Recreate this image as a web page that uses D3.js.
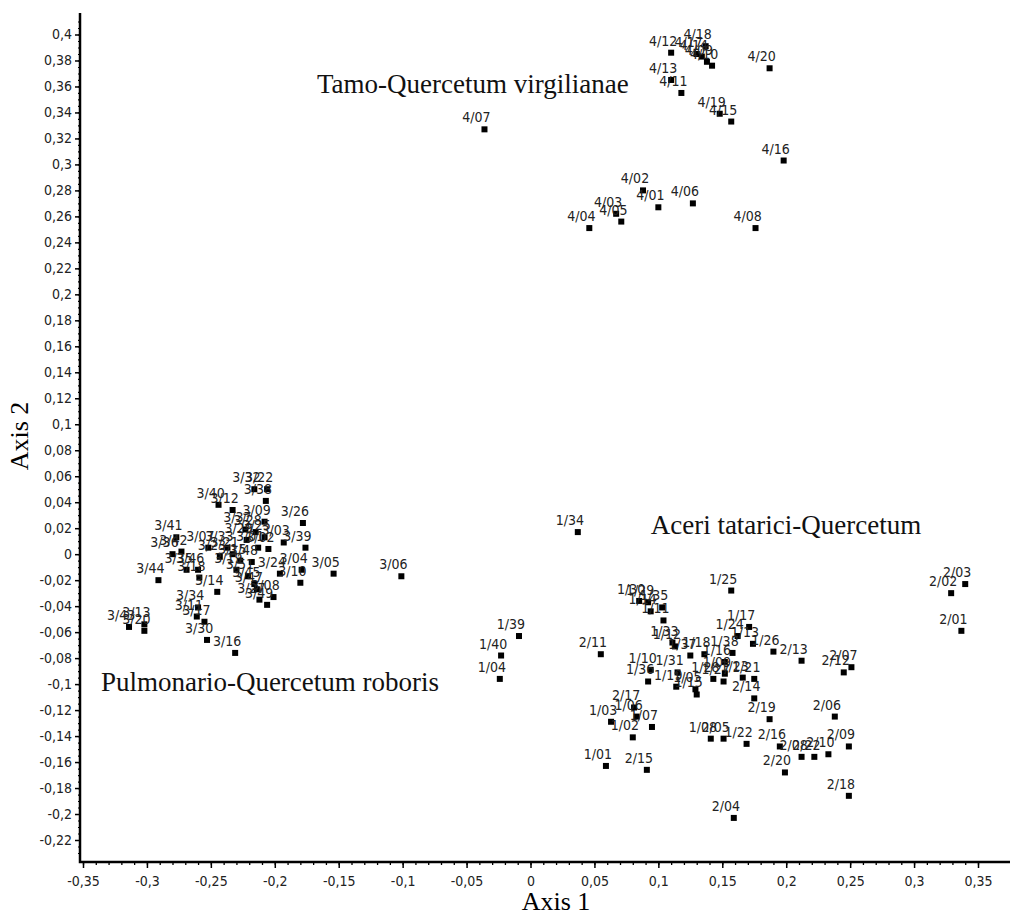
<!DOCTYPE html>
<html>
<head>
<meta charset="utf-8">
<script src="https://cdn.jsdelivr.net/npm/d3@7"></script>
<style>
  body { margin: 0; background: #fff; }
  .tick text, .plot-label { font-family: "DejaVu Sans Condensed", "Liberation Sans Narrow", "DejaVu Sans", sans-serif; }
  .title { font-family: "Liberation Serif", "DejaVu Serif", serif; }
</style>
</head>
<body>
<div id="chart"></div>
<script>
// ticks
const xTicks = d3.range(-7, 8).map(i => i * 0.05);
const xMinor = d3.range(-35, 36).map(i => i * 0.01);
const yTicks = d3.range(-11, 21).map(i => i * 0.02);
const yMinor = d3.range(-46, 83).map(i => i * 0.005);

// relevés [label, axis 1, axis 2]
const tamoQuercetum = [
  ["4/07", -0.036, 0.327], ["4/12", 0.110, 0.386], ["4/18", 0.137, 0.391],
  ["4/17", 0.130, 0.385], ["4/14", 0.134, 0.383], ["4/09", 0.138, 0.379],
  ["4/10", 0.142, 0.376], ["4/13", 0.110, 0.365], ["4/11", 0.118, 0.355],
  ["4/20", 0.187, 0.374], ["4/19", 0.148, 0.339], ["4/15", 0.157, 0.333],
  ["4/16", 0.198, 0.303], ["4/02", 0.088, 0.280], ["4/01", 0.100, 0.267],
  ["4/06", 0.127, 0.270], ["4/03", 0.067, 0.262], ["4/05", 0.071, 0.256],
  ["4/04", 0.046, 0.251], ["4/08", 0.176, 0.251]
];

const aceriQuercetum1 = [
  ["1/34", 0.037, 0.017], ["1/39", -0.009, -0.063], ["1/40", -0.023, -0.078],
  ["1/04", -0.024, -0.096], ["1/25", 0.157, -0.028], ["1/30", 0.085, -0.036],
  ["1/29", 0.092, -0.037], ["1/35", 0.103, -0.041], ["1/14", 0.094, -0.044],
  ["1/11", 0.104, -0.051], ["1/17", 0.171, -0.056], ["1/24", 0.162, -0.063],
  ["1/13", 0.174, -0.069], ["1/26", 0.190, -0.075], ["1/33", 0.111, -0.068],
  ["1/12", 0.113, -0.071], ["1/37", 0.125, -0.078], ["1/18", 0.136, -0.077],
  ["1/38", 0.158, -0.076], ["1/10", 0.094, -0.089], ["1/36", 0.092, -0.098],
  ["1/31", 0.115, -0.091], ["1/19", 0.114, -0.102], ["1/05", 0.129, -0.104],
  ["1/15", 0.130, -0.108], ["1/16", 0.152, -0.083], ["1/09", 0.152, -0.092],
  ["1/27", 0.151, -0.098], ["1/28", 0.143, -0.096], ["1/23", 0.166, -0.095],
  ["1/21", 0.175, -0.096], ["1/22", 0.169, -0.146], ["1/08", 0.141, -0.142],
  ["1/06", 0.083, -0.125], ["1/07", 0.095, -0.133], ["1/03", 0.063, -0.129],
  ["1/02", 0.080, -0.141], ["1/01", 0.059, -0.163]
];

const aceriQuercetum2 = [
  ["2/11", 0.055, -0.077], ["2/13", 0.212, -0.082], ["2/14", 0.175, -0.111],
  ["2/19", 0.187, -0.127], ["2/06", 0.238, -0.125], ["2/09", 0.249, -0.148],
  ["2/10", 0.233, -0.154], ["2/08", 0.212, -0.156], ["2/22", 0.222, -0.156],
  ["2/16", 0.195, -0.148], ["2/20", 0.199, -0.168], ["2/18", 0.249, -0.186],
  ["2/04", 0.159, -0.203], ["2/05", 0.151, -0.142], ["2/17", 0.081, -0.118],
  ["2/15", 0.091, -0.166], ["2/03", 0.340, -0.023], ["2/02", 0.329, -0.030],
  ["2/01", 0.337, -0.059], ["2/12", 0.245, -0.091], ["2/07", 0.251, -0.087]
];

const pulmonarioQuercetum = [
  ["3/32", -0.216, 0.050], ["3/22", -0.206, 0.050], ["3/38", -0.207, 0.041],
  ["3/40", -0.244, 0.038], ["3/12", -0.233, 0.034], ["3/09", -0.208, 0.025],
  ["3/26", -0.178, 0.024], ["3/37", -0.223, 0.019], ["3/29", -0.222, 0.011],
  ["3/03", -0.193, 0.009], ["3/39", -0.176, 0.005], ["3/41", -0.277, 0.013],
  ["3/36", -0.280, 0.000], ["3/42", -0.273, 0.002], ["3/07", -0.252, 0.005],
  ["3/23", -0.243, -0.002], ["3/33", -0.237, 0.005], ["3/21", -0.233, 0.000],
  ["3/01", -0.213, 0.005], ["3/02", -0.205, 0.004], ["3/25", -0.208, 0.013],
  ["3/28", -0.215, 0.017], ["3/04", -0.179, -0.012], ["3/10", -0.180, -0.022],
  ["3/24", -0.196, -0.015], ["3/05", -0.154, -0.015], ["3/06", -0.101, -0.017],
  ["3/19", -0.230, -0.012], ["3/48", -0.218, -0.006], ["3/15", -0.227, -0.005],
  ["3/44", -0.291, -0.020], ["3/35", -0.269, -0.012], ["3/46", -0.260, -0.012],
  ["3/18", -0.259, -0.018], ["3/14", -0.245, -0.029], ["3/51", -0.221, -0.017],
  ["3/45", -0.216, -0.023], ["3/47", -0.214, -0.027], ["3/27", -0.212, -0.035],
  ["3/49", -0.206, -0.039], ["3/08", -0.201, -0.033], ["3/34", -0.260, -0.041],
  ["3/11", -0.261, -0.048], ["3/17", -0.255, -0.052], ["3/30", -0.253, -0.066],
  ["3/16", -0.231, -0.076], ["3/43", -0.314, -0.056], ["3/13", -0.302, -0.054],
  ["3/20", -0.302, -0.059]
];

const allRelevés = [...tamoQuercetum, ...aceriQuercetum1, ...aceriQuercetum2, ...pulmonarioQuercetum];

const communityNames = [
  ["Tamo-Quercetum virgilianae", -0.167, 0.355],
  ["Aceri tatarici-Quercetum", 0.094, 0.0155],
  ["Pulmonario-Quercetum roboris", -0.336, -0.105]
];

const width = 1010;
const height = 917;

const svg = d3.select("#chart")
  .append("svg")
  .attr("width", width)
  .attr("height", height);

const x = d3.scaleLinear().domain([-0.35, 0.35]).range([83, 978]);
const y = d3.scaleLinear().domain([-0.22, 0.4]).range([840, 34.5]);

const axisX0 = 80, axisY0 = 862;
const fmt = d => String(+d.toFixed(2)).replace(".", ",");

// minor ticks
svg.append("g")
  .attr("transform", `translate(0,${axisY0})`)
  .call(d3.axisBottom(x).tickValues(xMinor).tickSize(3).tickFormat(""))
  .call(g => g.select(".domain").remove())
  .call(g => g.selectAll("line").attr("stroke-width", 1.3));

svg.append("g")
  .attr("transform", `translate(${axisX0},0)`)
  .call(d3.axisLeft(y).tickValues(yMinor).tickSize(2).tickFormat(""))
  .call(g => g.select(".domain").remove())
  .call(g => g.selectAll("line").attr("stroke-width", 1.2));

// major ticks
svg.append("g")
  .attr("transform", `translate(0,${axisY0})`)
  .call(d3.axisBottom(x).tickValues(xTicks).tickSize(6).tickPadding(8).tickFormat(fmt))
  .call(g => g.select(".domain").remove())
  .call(g => g.selectAll("line").attr("stroke-width", 1.5))
  .call(g => g.selectAll("text").attr("font-size", 14).attr("fill", "#222"));

svg.append("g")
  .attr("transform", `translate(${axisX0},0)`)
  .call(d3.axisLeft(y).tickValues(yTicks).tickSize(5).tickPadding(3).tickFormat(fmt))
  .call(g => g.select(".domain").remove())
  .call(g => g.selectAll("line").attr("stroke-width", 1.5))
  .call(g => g.selectAll("text").attr("font-size", 14).attr("fill", "#222"));

// axis lines
svg.append("path")
  .attr("d", `M${axisX0},13V${axisY0}H${width}`)
  .attr("fill", "none")
  .attr("stroke", "#000")
  .attr("stroke-width", 2.5);

// points
svg.append("g")
  .selectAll("rect")
  .data(allRelevés)
  .join("rect")
  .attr("x", d => x(d[1]) - 3)
  .attr("y", d => y(d[2]) - 3)
  .attr("width", 6)
  .attr("height", 6)
  .attr("fill", "#000");

svg.append("g")
  .selectAll("text")
  .data(allRelevés)
  .join("text")
  .attr("class", "plot-label")
  .attr("x", d => x(d[1]) - 8)
  .attr("y", d => y(d[2]) - 7)
  .attr("text-anchor", "middle")
  .attr("font-size", 14)
  .attr("fill", "#222")
  .text(d => d[0]);

// community names
svg.append("g")
  .selectAll("text")
  .data(communityNames)
  .join("text")
  .attr("class", "title")
  .attr("x", d => x(d[1]))
  .attr("y", d => y(d[2]))
  .attr("font-size", 27)
  .attr("fill", "#111")
  .text(d => d[0]);

// axis titles
svg.append("text")
  .attr("class", "title")
  .attr("x", 556)
  .attr("y", 910)
  .attr("text-anchor", "middle")
  .attr("font-size", 26)
  .text("Axis 1");

svg.append("text")
  .attr("class", "title")
  .attr("transform", "translate(28,436) rotate(-90)")
  .attr("text-anchor", "middle")
  .attr("font-size", 26)
  .text("Axis 2");
</script>
</body>
</html>
